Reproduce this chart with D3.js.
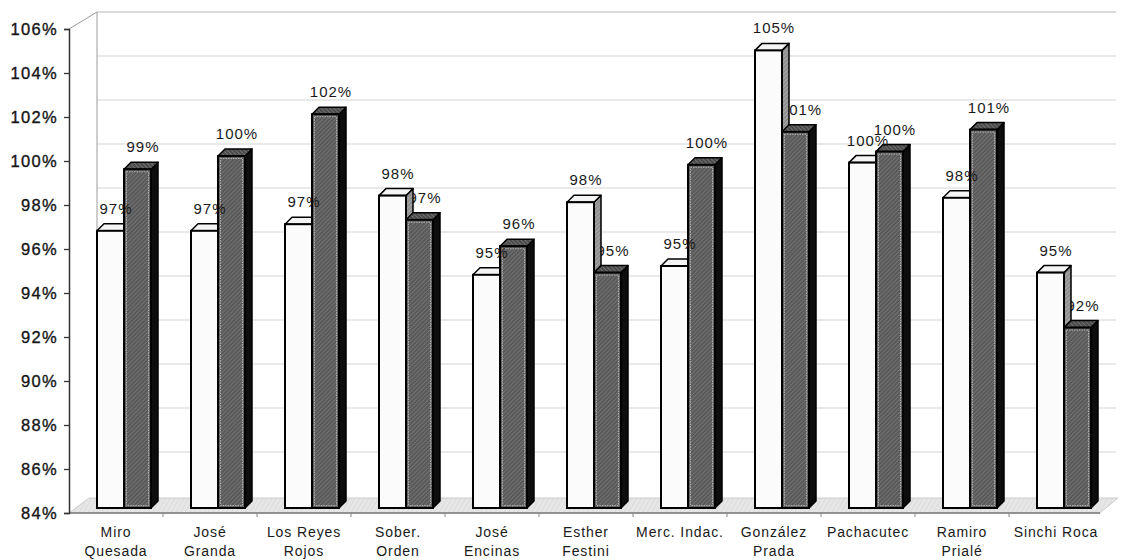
<!DOCTYPE html>
<html><head><meta charset="utf-8">
<script src="https://cdn.jsdelivr.net/npm/d3@7"></script>
<style>html,body{margin:0;background:#fff}svg{display:block}</style>
</head><body><svg id="chart" width="1122" height="560"></svg>
<script>
// Category names (with the line breaks used under the floor)
const categories = ["Miro Quesada","José Granda","Los Reyes Rojos","Sober. Orden","José Encinas","Esther Festini","Merc. Indac.","González Prada","Pachacutec","Ramiro Prialé","Sinchi Roca"];
const categoryLines = [["Miro","Quesada"],["José","Granda"],["Los Reyes","Rojos"],["Sober.","Orden"],["José","Encinas"],["Esther","Festini"],["Merc. Indac."],["González","Prada"],["Pachacutec"],["Ramiro","Prialé"],["Sinchi Roca"]];
// Two series: light bars and dark bars
const seriesLight = [0.966,0.966,0.969,0.982,0.946,0.979,0.950,1.048,0.997,0.981,0.947];
const seriesDark  = [0.994,1.000,1.019,0.971,0.959,0.947,0.996,1.011,1.002,1.012,0.922];
const yTicks = [0.84,0.86,0.88,0.90,0.92,0.94,0.96,0.98,1.00,1.02,1.04,1.06];

const svg = d3.select("#chart");
const pct = d3.format(".0%");

// scales
const x = d3.scaleBand().domain(categories).range([69, 1103]).padding(0);
const xs = d3.scaleBand().domain(["light","dark"]).range([28, 82]).padding(0);
const y = d3.scaleLinear().domain([0.84, 1.06]).range([513, 29]);

// 3D offsets
const wall = {dx: 28, dy: -17};   // back wall depth
const plane = {dy: -5};           // bars stand slightly behind the front edge
const bar = {dx: 7, dy: -7};      // bar thickness

// textures
const defs = svg.append("defs");
function hatch(id, bg, fg, size, angle) {
  const p = defs.append("pattern").attr("id", id).attr("patternUnits", "userSpaceOnUse")
    .attr("width", size).attr("height", size).attr("patternTransform", `rotate(${angle})`);
  p.append("rect").attr("width", size).attr("height", size).attr("fill", bg);
  p.append("line").attr("x1", 0).attr("y1", 0).attr("x2", 0).attr("y2", size)
    .attr("stroke", fg).attr("stroke-width", 1.2);
  return `url(#${id})`;
}
const darkFront = hatch("darkFront", "#5a5a5a", "#808080", 3, 45);
const darkTop = hatch("darkTop", "#4a4a4a", "#8a8a8a", 3, -45);
const lightSide = hatch("lightSide", "#8e8e8e", "#bdbdbd", 3, 45);
const floorFill = hatch("floorFill", "#e6e6e6", "#d6d6d6", 4, 30);

// back wall gridlines
const gx0 = 69 + wall.dx, gx1 = 1116;
svg.append("g").selectAll("line").data(yTicks.slice(1)).join("line")
  .attr("x1", gx0).attr("x2", gx1)
  .attr("y1", d => y(d) + wall.dy).attr("y2", d => y(d) + wall.dy)
  .attr("stroke", d => d === 1.06 ? "#b5b5b5" : "#d3d3d3").attr("stroke-width", 1.2);

// left wall outline
svg.append("path")
  .attr("d", `M69,${y(1.06)} L${gx0},${y(1.06) + wall.dy} L${gx0},${y(0.84) + wall.dy}`)
  .attr("fill", "none").attr("stroke", "#9a9a9a").attr("stroke-width", 1);

// floor
const fy = y(0.84);
svg.append("path")
  .attr("d", `M69,${fy} L1100,${fy} L1118,${fy + wall.dy + 2} L${69 + 20},${fy + wall.dy + 2} Z`)
  .attr("fill", floorFill).attr("stroke", "#c4c4c4").attr("stroke-width", 0.8);
svg.append("line").attr("x1", 69).attr("x2", 1100).attr("y1", fy).attr("y2", fy)
  .attr("stroke", "#777").attr("stroke-width", 1.3);
svg.append("g").selectAll("line").data(categories.slice(1)).join("line")
  .attr("x1", d => x(d)).attr("x2", d => x(d)).attr("y1", fy).attr("y2", fy + 4)
  .attr("stroke", "#888");

// y axis
const axis = svg.append("g").attr("transform", "translate(69,0)")
  .call(d3.axisLeft(y).tickValues(yTicks).tickFormat(pct).tickSize(5).tickPadding(6));
axis.select(".domain").attr("stroke", "#333").attr("stroke-width", 1.5);
axis.selectAll(".tick line").attr("stroke", "#333").attr("stroke-width", 1.3);
axis.selectAll(".tick text")
  .attr("font-family", "'Liberation Sans', Arial, sans-serif")
  .attr("font-size", 16.5).attr("letter-spacing", "1.3px")
  .attr("fill", "#151515").attr("stroke", "#151515").attr("stroke-width", 0.35)
  .attr("dy", "0.36em");

// data rows
const rows = categories.map((c, i) => ({c, light: seriesLight[i], dark: seriesDark[i]}));
const yBase = y(0.84) + plane.dy;

function geom(c, key, v) {
  const x0 = x(c) + xs(key), w = xs.bandwidth();
  const yt = y(v) + plane.dy;
  return {x0, w, yt};
}

function drawBars(g, key, style) {
  const sel = g.selectAll("g").data(rows).join("g");
  // side face
  sel.append("path").attr("d", d => {
    const {x0, w, yt} = geom(d.c, key, d[key]);
    return `M${x0 + w},${yt} L${x0 + w + bar.dx},${yt + bar.dy} L${x0 + w + bar.dx},${yBase + bar.dy} L${x0 + w},${yBase} Z`;
  }).attr("fill", style.side).attr("stroke", "#000").attr("stroke-width", 1.5).attr("stroke-linejoin", "round");
  // top face
  sel.append("path").attr("d", d => {
    const {x0, w, yt} = geom(d.c, key, d[key]);
    return `M${x0},${yt} L${x0 + bar.dx},${yt + bar.dy} L${x0 + w + bar.dx},${yt + bar.dy} L${x0 + w},${yt} Z`;
  }).attr("fill", style.top).attr("stroke", "#000").attr("stroke-width", 1.5).attr("stroke-linejoin", "round");
  // front face
  sel.append("rect")
    .attr("x", d => geom(d.c, key, d[key]).x0)
    .attr("y", d => geom(d.c, key, d[key]).yt)
    .attr("width", xs.bandwidth())
    .attr("height", d => yBase - geom(d.c, key, d[key]).yt)
    .attr("fill", style.front).attr("stroke", "#000").attr("stroke-width", 2);
  if (style.inner) {
    sel.append("rect")
      .attr("x", d => geom(d.c, key, d[key]).x0 + 2.5)
      .attr("y", d => geom(d.c, key, d[key]).yt + 2.5)
      .attr("width", xs.bandwidth() - 5)
      .attr("height", d => yBase - geom(d.c, key, d[key]).yt - 5)
      .attr("fill", "none").attr("stroke", style.inner).attr("stroke-width", 1)
      .attr("stroke-dasharray", "1.5,1");
  }
}

function drawLabels(g, key) {
  g.selectAll("text").data(rows).join("text")
    .attr("x", d => { const {x0, w} = geom(d.c, key, d[key]); return x0 + w / 2 + bar.dx / 2 + 2; })
    .attr("y", d => geom(d.c, key, d[key]).yt - 17)
    .attr("text-anchor", "middle")
    .attr("font-family", "'Liberation Sans', Arial, sans-serif")
    .attr("font-size", 15).attr("letter-spacing", "1px")
    .attr("fill", "#1a1a1a")
    .text(d => pct(d[key]));
}

drawLabels(svg.append("g"), "dark");
drawBars(svg.append("g"), "light", {front: "#fbfbfb", top: "#f4f4f4", side: lightSide});
drawBars(svg.append("g"), "dark", {front: darkFront, top: darkTop, side: "#0d0d0d", inner: "#b0b0b0"});
drawLabels(svg.append("g"), "light");

// category labels
const cl = svg.append("g").selectAll("text").data(categories).join("text")
  .attr("text-anchor", "middle")
  .attr("font-family", "'Liberation Sans', Arial, sans-serif")
  .attr("font-size", 14).attr("letter-spacing", "0.9px").attr("fill", "#1a1a1a");
cl.each(function(c, i) {
  const t = d3.select(this);
  const cx = x(c) + x.bandwidth() / 2;
  categoryLines[i].forEach((ln, j) => {
    t.append("tspan").attr("x", cx).attr("y", 537 + j * 19).text(ln);
  });
});
</script></body></html>
